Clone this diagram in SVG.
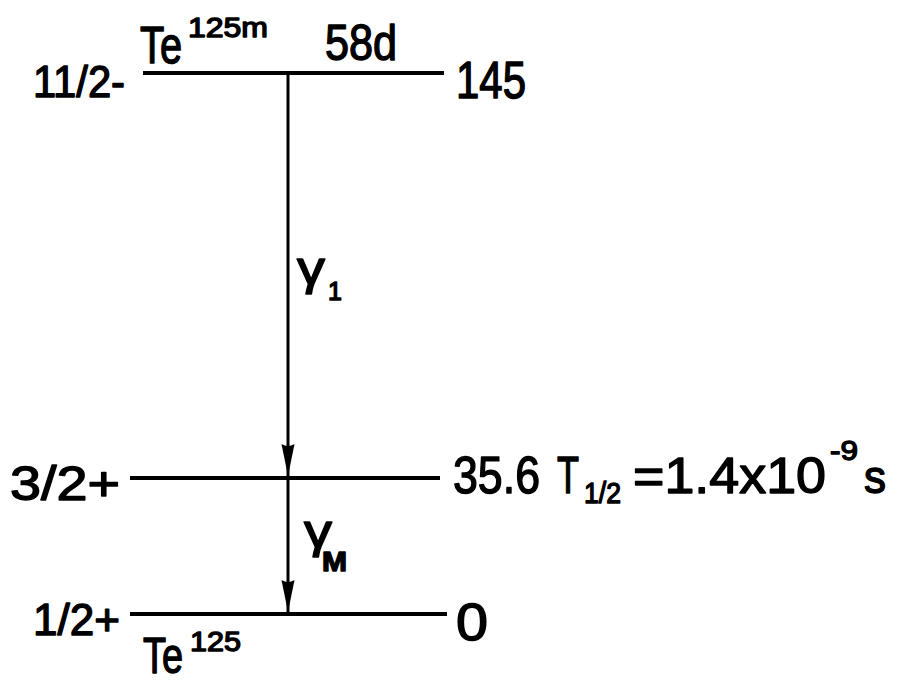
<svg xmlns="http://www.w3.org/2000/svg" width="899" height="683" viewBox="0 0 899 683">
<style>
.lvl{stroke:#000;stroke-width:4;stroke-linecap:butt}
.arr{stroke:#000;stroke-width:3;fill:none;marker-end:url(#ah)}
.t{font-family:"Liberation Sans",Arial,sans-serif;fill:#000;stroke:#000;stroke-width:1.4;stroke-linejoin:round}
</style>
<defs>
<marker id="ah" markerUnits="userSpaceOnUse" markerWidth="34" markerHeight="14" refX="32" refY="7" orient="auto">
<path d="M0,0.5 L32,7 L0,13.5 Q4,7 0,0.5 Z" fill="#000"/>
</marker>
</defs>
<rect width="899" height="683" fill="#fff"/>
<g id="level-145">
<line class="lvl" x1="143" y1="73" x2="444" y2="73"/>
<text class="t" x="33" y="97" font-size="44" textLength="92" lengthAdjust="spacingAndGlyphs">11/2-</text>
<text class="t" x="140" y="63" font-size="52" textLength="42" lengthAdjust="spacingAndGlyphs">Te</text>
<text class="t" x="188" y="37" font-size="28" textLength="80" lengthAdjust="spacingAndGlyphs">125m</text>
<text class="t" x="325" y="60" font-size="50" textLength="72" lengthAdjust="spacingAndGlyphs">58d</text>
<text class="t" x="456" y="98" font-size="52" textLength="70" lengthAdjust="spacingAndGlyphs">145</text>
</g>
<g id="level-35.6">
<line class="lvl" x1="130" y1="478" x2="440" y2="478"/>
<text class="t" x="10" y="500" font-size="48" textLength="110" lengthAdjust="spacingAndGlyphs">3/2+</text>
<text class="t" x="453" y="493" font-size="52" textLength="87" lengthAdjust="spacingAndGlyphs">35.6</text>
<text class="t" x="557" y="493" font-size="52" textLength="22" lengthAdjust="spacingAndGlyphs">T</text>
<text class="t" x="584" y="503" font-size="30" textLength="37" lengthAdjust="spacingAndGlyphs">1/2</text>
<text class="t" x="633" y="493" font-size="50" textLength="193" lengthAdjust="spacingAndGlyphs">=1.4x10</text>
<text class="t" x="830" y="460" font-size="28" textLength="28" lengthAdjust="spacingAndGlyphs">-9</text>
<text class="t" x="864" y="493" font-size="46" textLength="22" lengthAdjust="spacingAndGlyphs">s</text>
</g>
<g id="level-0">
<line class="lvl" x1="130" y1="614" x2="447" y2="614"/>
<text class="t" x="33" y="635" font-size="44" textLength="87" lengthAdjust="spacingAndGlyphs">1/2+</text>
<text class="t" x="456" y="640" font-size="52" textLength="32" lengthAdjust="spacingAndGlyphs">0</text>
<text class="t" x="143" y="673" font-size="50" textLength="40" lengthAdjust="spacingAndGlyphs">Te</text>
<text class="t" x="190" y="651" font-size="28" textLength="51" lengthAdjust="spacingAndGlyphs">125</text>
</g>
<g id="connectors">
<line class="arr" x1="288" y1="73" x2="288" y2="476"/>
<line class="arr" x1="288" y1="478" x2="288" y2="612"/>
<text class="t" x="297" y="284" font-size="46" textLength="28" lengthAdjust="spacingAndGlyphs">γ</text>
<text class="t" x="328" y="300" font-size="25">1</text>
<text class="t" x="304" y="547" font-size="46" textLength="28" lengthAdjust="spacingAndGlyphs">γ</text>
<text class="t" x="322" y="571" font-size="27" font-weight="bold" textLength="25" lengthAdjust="spacingAndGlyphs">M</text>
</g>
</svg>
